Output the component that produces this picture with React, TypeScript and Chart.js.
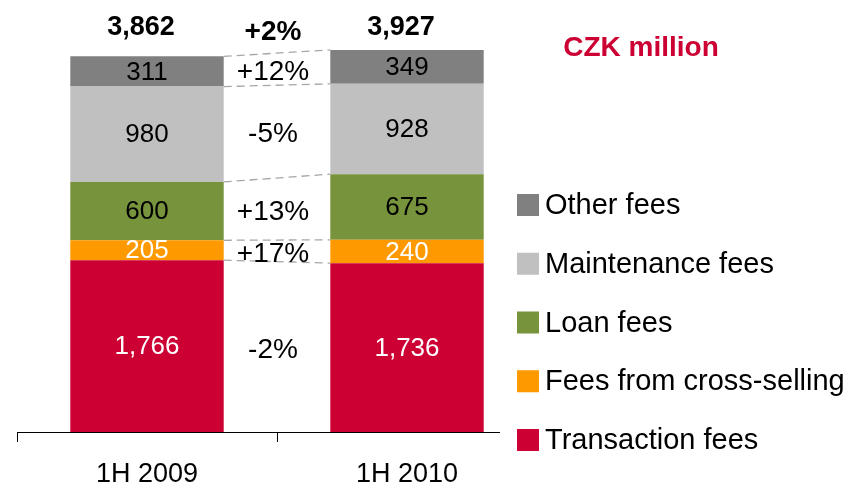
import React, { useEffect, useRef } from "react";
import { Chart, registerables } from "chart.js";

Chart.register(...registerables);

const categories = ["1H 2009", "1H 2010"];
const seriesNames = ["Transaction fees", "Fees from cross-selling", "Loan fees", "Maintenance fees", "Other fees"];
const transactionFees = [1766, 1736];
const crossSellingFees = [205, 240];
const loanFees = [600, 675];
const maintenanceFees = [980, 928];
const otherFees = [311, 349];
const totals = [3862, 3927];
const seriesGrowth = ["-2%", "+17%", "+13%", "-5%", "+12%"];
const totalGrowth = "+2%";
const unitLabel = "CZK million";

const colors = ["#CC0033", "#FF9900", "#77933C", "#C0C0C0", "#808080"];
const labelColors = ["#FFFFFF", "#FFFFFF", "#000000", "#000000", "#000000"];
const FONT = "'Liberation Sans', Arial, sans-serif";

const fmt = (v: number) => v.toLocaleString("en-US");

const overlayPlugin = {
  id: "overlay",
  afterDatasetsDraw(chart: any) {
    const ctx = chart.ctx;
    const area = chart.chartArea;
    const n = chart.data.datasets.length;
    ctx.save();
    // dashed connectors
    ctx.strokeStyle = "#A6A6A6";
    ctx.lineWidth = 1.3;
    ctx.setLineDash([8, 5]);
    for (let i = 0; i < n; i++) {
      const els = chart.getDatasetMeta(i).data;
      const a = els[0];
      const b = els[1];
      ctx.beginPath();
      ctx.moveTo(a.x + a.width / 2, a.y);
      ctx.lineTo(b.x - b.width / 2, b.y);
      ctx.stroke();
    }
    ctx.setLineDash([]);
    // segment values
    ctx.textAlign = "center";
    ctx.textBaseline = "middle";
    ctx.font = `26px ${FONT}`;
    for (let i = 0; i < n; i++) {
      const meta = chart.getDatasetMeta(i);
      const ds = chart.data.datasets[i];
      meta.data.forEach((el: any, j: number) => {
        ctx.fillStyle = labelColors[i];
        ctx.fillText(fmt(ds.data[j]), el.x, (el.y + el.base) / 2 + 1);
      });
    }
    // growth labels
    ctx.fillStyle = "#000";
    ctx.font = `28px ${FONT}`;
    for (let i = 0; i < n; i++) {
      const els = chart.getDatasetMeta(i).data;
      const a = els[0];
      const b = els[1];
      const gx = (a.x + a.width / 2 + b.x - b.width / 2) / 2 - 4;
      const gy = ((a.y + a.base) / 2 + (b.y + b.base) / 2) / 2 + 3;
      ctx.fillText(seriesGrowth[i], gx, gy);
    }
    // totals
    const top0 = chart.getDatasetMeta(n - 1).data;
    ctx.font = `bold 27px ${FONT}`;
    top0.forEach((el: any, j: number) => {
      ctx.fillText(fmt(totals[j]), el.x - 6, area.top + 24);
    });
    const gx = (top0[0].x + top0[0].width / 2 + top0[1].x - top0[1].width / 2) / 2 - 4;
    ctx.font = `bold 28px ${FONT}`;
    ctx.fillText(totalGrowth, gx, area.top + 28);
    // unit label
    ctx.fillStyle = "#CC0033";
    ctx.fillText(unitLabel, area.right + 104, area.top + 44);
    // x axis line
    ctx.strokeStyle = "#000";
    ctx.lineWidth = 1;
    ctx.beginPath();
    ctx.moveTo(area.left, area.bottom + 0.5);
    ctx.lineTo(area.right - 37, area.bottom + 0.5);
    ctx.stroke();
    // legend (reverse order)
    ctx.textAlign = "left";
    ctx.font = `29px ${FONT}`;
    const lx = area.right - 20;
    const startY = area.top + 201;
    const step = 58.75;
    for (let k = 0; k < n; k++) {
      const i = n - 1 - k;
      const cy = startY + k * step;
      ctx.fillStyle = chart.data.datasets[i].backgroundColor;
      ctx.fillRect(lx, cy - 11, 22, 22);
      ctx.fillStyle = "#000";
      ctx.fillText(chart.data.datasets[i].label, lx + 28, cy + 1);
    }
    ctx.restore();
  },
};

export default function App() {
  const ref = useRef<HTMLCanvasElement | null>(null);
  useEffect(() => {
    if (!ref.current) return;
    const seriesData = [transactionFees, crossSellingFees, loanFees, maintenanceFees, otherFees];
    const chart = new Chart(ref.current, {
      type: "bar",
      data: {
        labels: categories,
        datasets: seriesData.map((d, i) => ({
          label: seriesNames[i],
          data: d,
          backgroundColor: colors[i],
          borderWidth: 0,
          barPercentage: 1,
          categoryPercentage: 0.59,
        })),
      },
      options: {
        responsive: false,
        animation: false,
        layout: { padding: { left: 17, right: 315, top: 4, bottom: 0 } },
        plugins: { legend: { display: false }, tooltip: { enabled: false } },
        scales: {
          x: {
            stacked: true,
            border: { display: false },
            grid: {
              display: true,
              drawOnChartArea: false,
              drawTicks: true,
              tickLength: 10,
              color: (c: any) => (c.type === "tick" ? "#000" : "rgba(0,0,0,0)"),
            },
            ticks: { color: "#000", padding: 16, font: { family: FONT, size: 27 } },
            afterFit: (s: any) => {
              s.height = 56;
            },
          },
          y: { stacked: true, display: false, min: 0, max: 4400 },
        },
      },
      plugins: [overlayPlugin],
    });
    return () => chart.destroy();
  }, []);
  return (
    <div style={{ position: "absolute", left: 0, top: 0, width: 852, height: 488, background: "#fff" }}>
      <canvas ref={ref} width={852} height={488} />
    </div>
  );
}
